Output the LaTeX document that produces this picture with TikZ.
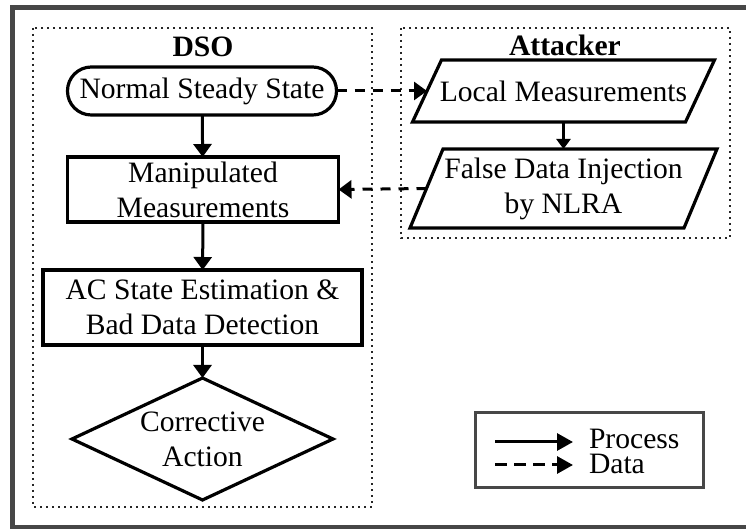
\documentclass[tikz,border=0pt]{standalone}
\usepackage{fontspec}
\setmainfont{Liberation Serif}
\usetikzlibrary{arrows.meta,calc}
\begin{document}
\begin{tikzpicture}[x=0.5pt,y=-0.5pt,
  font=\fontsize{14.8}{17.5}\selectfont,
  every node/.style={inner sep=0pt, outer sep=0pt, align=center},
  flowbox/.style={draw, line width=1.6pt},
  shapeonly/.style={draw=none},
  outline/.style={line width=1.6pt, line join=miter},
  proc/.style={-{Triangle[length=6.5pt,width=9pt]}, line width=1.5pt},
  datalink/.style={proc, dash pattern=on 5pt off 4pt},
  group/.style={draw, line width=1pt, dash pattern=on 1pt off 2pt, black!85},
  heading/.style={font=\fontsize{14.8}{17.5}\selectfont\bfseries}
]
\useasboundingbox (0,0) rectangle (746,529);
\fill[white] (0,0) rectangle (746,529);

% outer frame (runs past the right edge)
\begin{scope}
  \clip (0,0) rectangle (746,529);
  \draw[line width=2.5pt, black!72] (12.5,7.5) rectangle (770,527.5);
\end{scope}

% group frames
\draw[group] (33,28) rectangle (372,507);
\draw[group] (401,28) rectangle (730,238);
\node[heading] (dsolabel) at (203,47) {DSO};
\node[heading] (attlabel) at (565,45) {Attacker};

% DSO side
\node[flowbox, rounded corners=11.9pt, minimum width=134.5pt, minimum height=24pt]
  (nss) at (202,91) {Normal Steady State};
\node[flowbox, minimum width=135.5pt, minimum height=32.5pt]
  (mm) at (203,189.5) {Manipulated\\Measurements};
\node[flowbox, minimum width=159.5pt, minimum height=37.5pt]
  (ac) at (202.5,307.5) {AC State Estimation \&\\Bad Data Detection};
\node[shapeonly, minimum width=130.5pt, minimum height=61pt]
  (ca) at (202.5,439) {Corrective\\Action};
\draw[outline] (ca.north) -- (ca.east) -- (ca.south) -- (ca.west) -- cycle;

% attacker side
\node[shapeonly, minimum width=136.5pt, minimum height=31pt]
  (lm) at (563.5,91) {Local Measurements};
\draw[outline] ([shift={(14.5,0)}]lm.north west) -- ([shift={(14.5,0)}]lm.north east)
  -- ([shift={(-14.5,0)}]lm.south east) -- ([shift={(-14.5,0)}]lm.south west) -- cycle;
\node[shapeonly, minimum width=137pt, minimum height=39.5pt]
  (fd) at (563.5,188.5) {False Data Injection\\by NLRA};
\draw[outline] ([shift={(16.5,0)}]fd.north west) -- ([shift={(16.5,0)}]fd.north east)
  -- ([shift={(-16.5,0)}]fd.south east) -- ([shift={(-16.5,0)}]fd.south west) -- cycle;

% process flow
\draw[proc] (nss) -- (mm);
\draw[proc] (mm) -- (ac);
\draw[proc] (ac) -- (ca.north);
\draw[proc, -{Triangle[length=5pt,width=7pt]}] (lm.south) -- (fd.north);

% data flow
\draw[datalink] (nss.east) -- (lm.west);
\draw[datalink] (fd.west) -- (mm.east);

% legend
\node[draw=black!72, line width=1.5pt, minimum width=114pt, minimum height=37.5pt]
  (legend) at (589,450.5) {};
\coordinate (pa) at (495,442);
\coordinate (pb) at (573,442);
\coordinate (da) at (495,465);
\coordinate (db) at (573,465);
\draw[proc, -{Triangle[length=8pt,width=8.5pt]}] (pa) -- (pb);
\draw[datalink, -{Triangle[length=8pt,width=8.5pt]}, dash pattern=on 6pt off 3.5pt] (da) -- (db);
\node[anchor=base west] (proclabel) at (589,449) {Process};
\node[anchor=base west] (datalabel) at (589,474) {Data};
\end{tikzpicture}
\end{document}
